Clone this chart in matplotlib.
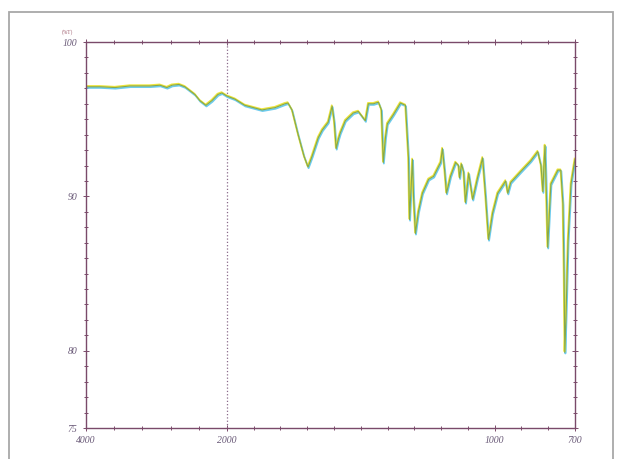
import numpy as np
import matplotlib
matplotlib.use("Agg")
import matplotlib.pyplot as plt
import matplotlib.patheffects as pe
from matplotlib.patches import Rectangle

# IR spectrum (wavenumber in cm-1, transmittance in %)
wavenumber = [4000, 3801, 3589, 3376, 3092, 2950, 2851, 2780, 2681, 2596,
              2454, 2383, 2298, 2213, 2128, 2071, 2000, 1970, 1933, 1869,
              1820, 1783, 1772, 1757, 1734, 1712, 1697, 1682, 1659, 1644,
              1622, 1607, 1599, 1592, 1584, 1577, 1558, 1528, 1509, 1483,
              1472, 1453, 1434, 1423, 1416, 1408, 1401, 1378, 1352, 1333,
              1322, 1318, 1311, 1307, 1303, 1296, 1285, 1270, 1247, 1228,
              1202, 1195, 1187, 1180, 1165, 1146, 1135, 1131, 1124, 1116,
              1109, 1097, 1082, 1064, 1045, 1034, 1023, 1008, 989, 959,
              951, 940, 903, 865, 839, 827, 820, 816, 812, 809,
              802, 794, 790, 764, 753, 745, 741, 738, 734, 726,
              715, 704, 700]
transmittance = [97.1, 97.1, 97.05, 97.15, 97.15, 97.2, 97.05, 97.2, 97.25, 97.1,
                 96.6, 96.2, 95.9, 96.2, 96.6, 96.7, 96.5, 96.3, 95.9, 95.6,
                 95.75, 96.0, 96.05, 95.6, 94.0, 92.6, 91.9, 92.6, 93.8, 94.3,
                 94.8, 95.85, 94.8, 93.1, 93.7, 94.1, 94.9, 95.4, 95.5, 94.9,
                 96.0, 96.0, 96.1, 95.6, 92.2, 93.8, 94.7, 95.3, 96.05, 95.9,
                 92.5, 88.5, 91.0, 92.4, 90.0, 87.6, 89.0, 90.2, 91.1, 91.3,
                 92.2, 93.1, 91.7, 90.2, 91.3, 92.2, 92.0, 91.2, 92.1, 91.6,
                 89.6, 91.5, 89.8, 91.2, 92.5, 90.0, 87.2, 88.9, 90.2, 91.0,
                 90.2, 90.9, 91.6, 92.3, 92.9, 92.0, 90.3, 92.0, 93.3, 91.5,
                 86.7, 89.5, 90.8, 91.7, 91.7, 89.5, 85.0, 79.9, 82.0, 87.1,
                 90.8, 92.0, 92.4]

x_ticks = [4000, 2000, 1000, 700]
y_ticks = [100, 90, 80, 75]

# scale change at 2000 cm-1 (expanded by ~3.8 below 2000)
K = 3.8
def fwd(w):
    w = np.asarray(w, dtype=float)
    return np.where(w <= 2000, (w - 2000) * K, w - 2000)

def inv(p):
    p = np.asarray(p, dtype=float)
    return np.where(p <= 0, p / K + 2000, p + 2000)

axcol = '#7a4a6a'
labcol = '#6a5a78'

fig = plt.figure(figsize=(6.17, 4.59), dpi=100)
# scanned page frame
fig.patches.append(Rectangle((9/617, -0.02), 604/617, 1.02 - 12/459, transform=fig.transFigure,
                             fill=False, edgecolor='#a8a8a8', lw=1.3))
ax = fig.add_axes([86/617, 31/459, 489/617, 386/459])
ax.set_xscale('function', functions=(fwd, inv))
ax.set_xlim(4000, 700)
ax.set_ylim(75, 100)

ax.axvline(2000, color='#8a6a8a', ls=':', lw=0.9)

ax.plot(wavenumber, transmittance, color='#86a84a', lw=0.8,
        path_effects=[pe.Stroke(offset=(0.4, -0.8), linewidth=1.3, foreground='#6ccbee'),
                      pe.Stroke(offset=(-0.3, 0.6), linewidth=1.2, foreground='#eee43a'),
                      pe.Normal()])

ax.set_xticks(x_ticks)
ax.set_xticklabels([str(v) for v in x_ticks])
ax.set_xticks(list(range(3600, 2000, -400)) + list(range(1900, 700, -100)), minor=True)
ax.set_yticks(y_ticks)
ax.set_yticks(np.arange(75, 101, 1), minor=True)
ax.tick_params(which='both', direction='inout', top=True, right=True, color=axcol, width=0.7)
ax.tick_params(which='major', length=5, labelsize=7, labelcolor=labcol)
ax.tick_params(which='minor', length=3)
for lab in ax.get_xticklabels() + ax.get_yticklabels():
    lab.set_fontfamily('Liberation Serif')
    lab.set_fontstyle('italic')
for s in ax.spines.values():
    s.set_color(axcol)
    s.set_linewidth(1.0)

fig.text(62/617, 1 - 34/459, '(%T)', fontsize=4, color='#a06070', family='Liberation Serif')

fig.savefig('out.png', dpi=100)
